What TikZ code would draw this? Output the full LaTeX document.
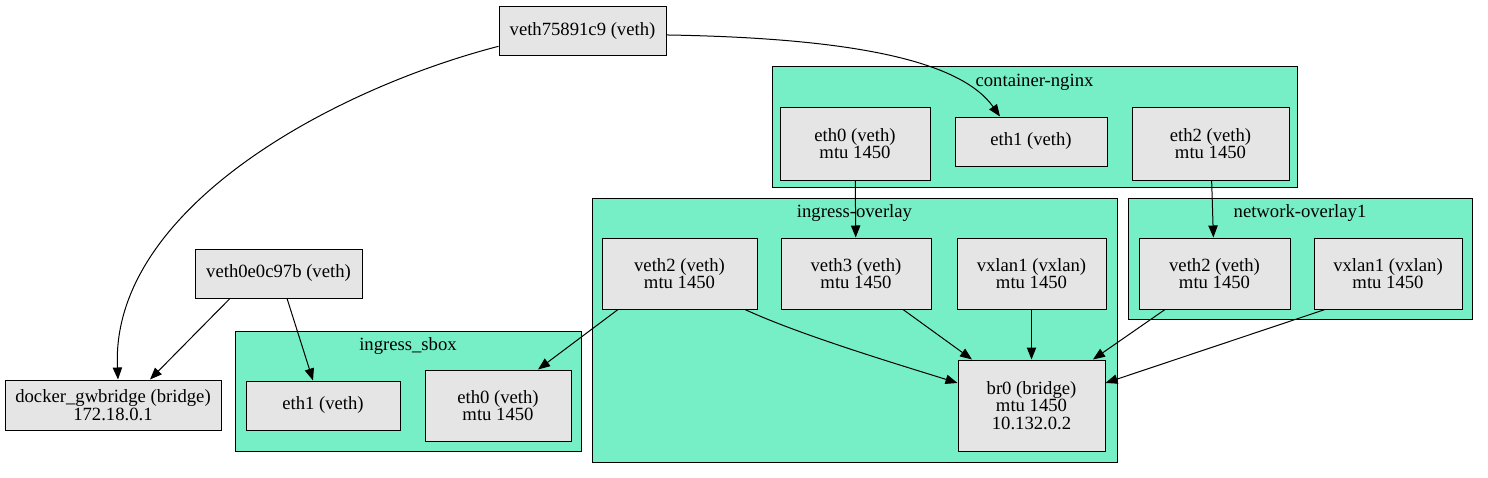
\documentclass[tikz,border=0pt]{standalone}
\usepackage{fontspec}
\setmainfont{Liberation Serif}
\usetikzlibrary{positioning, arrows.meta}
\definecolor{clusterfill}{HTML}{76EEC6}
\definecolor{ifacefill}{HTML}{E5E5E5}

\begin{document}
\begin{tikzpicture}[x=0.75pt, y=-0.75pt,
  iface/.style={draw, fill=ifacefill, line width=0.75pt, align=center, inner sep=0pt, minimum height=36.75pt, font=\fontsize{14}{13}\selectfont},
  iface2/.style={iface, minimum height=53.25pt},
  cluster/.style={draw, fill=clusterfill, line width=0.75pt, inner sep=0pt},
  clusterlabel/.style={inner sep=0pt, font=\fontsize{14}{13}\selectfont},
  link/.style={-{Triangle[length=9pt, width=7pt]}, line width=0.75pt}]
\useasboundingbox (0,0) rectangle (1488,478);
% clusters
\node[cluster, minimum width=393.75pt, minimum height=90pt] (nginx) at (1034.5,127) {};
\node[cluster, minimum width=393.75pt, minimum height=198pt] (ingress) at (854.5,330) {};
\node[cluster, minimum width=258pt, minimum height=90.75pt] (overlay1) at (1300,258.5) {};
\node[cluster, minimum width=259.5pt, minimum height=90pt] (sbox) at (408,391) {};
\node[clusterlabel] (nginxlabel) at (1034.5,82) {container-nginx};
\node[clusterlabel] (ingresslabel) at (854.5,213) {ingress-overlay};
\node[clusterlabel] (overlay1label) at (1300,213) {network-overlay1};
\node[clusterlabel] (sboxlabel) at (408,346) {ingress\_sbox};
% interfaces
\node[iface, minimum width=125.25pt] (veth758) at (582.5,31.5) {veth75891c9 (veth)};
\node[iface, minimum width=125.25pt] (veth0e0) at (278.5,273.5) {veth0e0c97b (veth)};
\node[iface, minimum width=162pt, minimum height=37.5pt] (gwbridge) at (113,405) {docker\_gwbridge (bridge)\\172.18.0.1};
\node[iface2, minimum width=112.5pt, minimum height=54.75pt] (nginxeth0) at (855,143.5) {eth0 (veth)\\mtu 1450};
\node[iface, minimum width=114pt] (nginxeth1) at (1031,141.5) {eth1 (veth)};
\node[iface2, minimum width=117.75pt, minimum height=54.75pt] (nginxeth2) at (1210.5,143.5) {eth2 (veth)\\mtu 1450};
\node[iface2, minimum width=116.25pt] (ingressveth2) at (679.5,273.5) {veth2 (veth)\\mtu 1450};
\node[iface2, minimum width=112.5pt] (ingressveth3) at (856,273.5) {veth3 (veth)\\mtu 1450};
\node[iface2, minimum width=111.75pt] (ingressvxlan1) at (1031.5,273.5) {vxlan1 (vxlan)\\mtu 1450};
\node[iface, minimum width=110.25pt, minimum height=68.25pt] (br0) at (1031.5,405.5) {br0 (bridge)\\mtu 1450\\10.132.0.2};
\node[iface2, minimum width=113.25pt] (overlay1veth2) at (1214.5,273.5) {veth2 (veth)\\mtu 1450};
\node[iface2, minimum width=111pt] (overlay1vxlan1) at (1388,273.5) {vxlan1 (vxlan)\\mtu 1450};
\node[iface, minimum width=115.5pt] (sboxeth1) at (323,405.5) {eth1 (veth)};
\node[iface2, minimum width=109.5pt] (sboxeth0) at (498,405.5) {eth0 (veth)\\mtu 1450};
% links
\draw[link] (veth758.190) .. controls (330,90) and (110,210) .. ([xshift=3.75pt]gwbridge.north);
\draw[link] ([yshift=-2.6pt]veth758.east) .. controls (850,38) and (960,60) .. ([xshift=-23.25pt]nginxeth1.north);
\draw[link] ([xshift=-36.4pt]veth0e0.south) -- ([xshift=27.75pt]gwbridge.north);
\draw[link] ([xshift=6.4pt]veth0e0.south) -- ([xshift=-7.5pt]sboxeth1.north);
\draw[link] ([xshift=-46.1pt]ingressveth2.south) -- ([xshift=30pt]sboxeth0.north);
\draw[link] ([xshift=49.1pt]ingressveth2.south) .. controls (800,335) and (900,365) .. ([yshift=16.9pt]br0.west);
\draw[link] ([xshift=35.25pt]ingressveth3.south) -- ([xshift=-44.6pt]br0.north);
\draw[link] (ingressvxlan1) -- (br0);
\draw[link] (nginxeth0) -- (ingressveth3);
\draw[link] (nginxeth2) -- (overlay1veth2);
\draw[link] ([xshift=-37.1pt]overlay1veth2.south) -- ([xshift=46.1pt]br0.north);
\draw[link] ([xshift=-47.25pt]overlay1vxlan1.south) -- ([yshift=16.9pt]br0.east);
\end{tikzpicture}
\end{document}
